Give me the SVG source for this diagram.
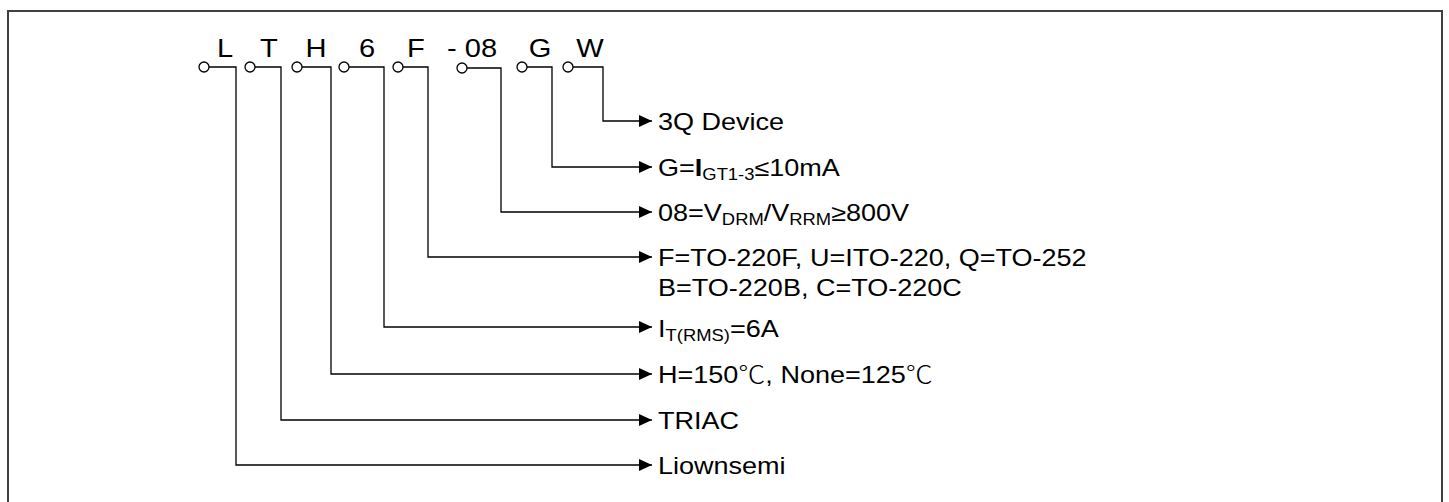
<svg xmlns="http://www.w3.org/2000/svg" width="1449" height="502" viewBox="0 0 1449 502">
<style>
.frame{fill:none;stroke:#404040;stroke-width:2}
.pin{fill:#fff;stroke:#000;stroke-width:1.3}
.code{font-family:"Liberation Sans",Arial,sans-serif;font-size:26px;fill:#000}
.lbl{font-family:"Liberation Sans",Arial,sans-serif;font-size:23.5px;fill:#000}
.sub{font-size:16px}
.deg{font-family:"Noto Sans CJK SC","DejaVu Sans",sans-serif;font-weight:300}
.wire{fill:none;stroke:#000;stroke-width:1.3}
</style>
<defs>
<marker id="arr" markerUnits="userSpaceOnUse" markerWidth="14" markerHeight="12" refX="13" refY="6" orient="auto">
<path d="M0,0 L13,6 L0,12 z" fill="#000"/>
</marker>
</defs>
<rect width="1449" height="502" fill="#fff"/>
<path class="frame" d="M8,503 V11 H1442 V503"/>
<g id="pin-L"><circle class="pin" cx="204" cy="67" r="5"/><text class="code" text-anchor="middle" transform="translate(225,57) scale(1.12,1)">L</text></g>
<g id="pin-T"><circle class="pin" cx="250" cy="67" r="5"/><text class="code" text-anchor="middle" transform="translate(269,57) scale(1.12,1)">T</text></g>
<g id="pin-H"><circle class="pin" cx="297" cy="67" r="5"/><text class="code" text-anchor="middle" transform="translate(316,57) scale(1.12,1)">H</text></g>
<g id="pin-6"><circle class="pin" cx="344" cy="67" r="5"/><text class="code" text-anchor="middle" transform="translate(367,57) scale(1.12,1)">6</text></g>
<g id="pin-F"><circle class="pin" cx="398" cy="67" r="5"/><text class="code" text-anchor="middle" transform="translate(416,57) scale(1.12,1)">F</text></g>
<g id="pin-08"><circle class="pin" cx="462" cy="68" r="5"/><text class="code" transform="translate(447,57) scale(1.12,1)">- 08</text></g>
<g id="pin-G"><circle class="pin" cx="522" cy="67" r="5"/><text class="code" text-anchor="middle" transform="translate(540,57) scale(1.12,1)">G</text></g>
<g id="pin-W"><circle class="pin" cx="568" cy="67" r="5"/><text class="code" text-anchor="middle" transform="translate(590,57) scale(1.12,1)">W</text></g>
<g id="connectors">
<path class="wire" marker-end="url(#arr)" d="M209,67 H236 V465 H652"/>
<path class="wire" marker-end="url(#arr)" d="M255,67 H281 V420 H652"/>
<path class="wire" marker-end="url(#arr)" d="M302,67 H331 V374 H652"/>
<path class="wire" marker-end="url(#arr)" d="M349,67 H384 V327 H652"/>
<path class="wire" marker-end="url(#arr)" d="M403,67 H428 V257 H652"/>
<path class="wire" marker-end="url(#arr)" d="M467,68 H501 V212 H652"/>
<path class="wire" marker-end="url(#arr)" d="M527,67 H552 V167 H652"/>
<path class="wire" marker-end="url(#arr)" d="M573,67 H603 V121 H652"/>
</g>
<g id="label-W"><text class="lbl" transform="translate(658,130) scale(1.15,1)">3Q Device</text></g>
<g id="label-G"><text class="lbl" transform="translate(658,176) scale(1.15,1)">G=<tspan font-weight="bold">I</tspan><tspan class="sub" dy="4">GT1-3</tspan><tspan dy="-4">≤10mA</tspan></text></g>
<g id="label-08"><text class="lbl" transform="translate(658,221) scale(1.15,1)">08=V<tspan class="sub" dy="4">DRM</tspan><tspan dy="-4">/V</tspan><tspan class="sub" dy="4">RRM</tspan><tspan dy="-4">≥800V</tspan></text></g>
<g id="label-F"><text class="lbl" transform="translate(658,266) scale(1.15,1)">F=TO-220F, U=ITO-220, Q=TO-252</text><text class="lbl" transform="translate(658,296) scale(1.15,1)">B=TO-220B, C=TO-220C</text></g>
<g id="label-6"><text class="lbl" transform="translate(658,337) scale(1.15,1)">I<tspan class="sub" dy="4">T(RMS)</tspan><tspan dy="-4">=6A</tspan></text></g>
<g id="label-H"><text class="lbl" transform="translate(658,383) scale(1.15,1)">H=150<tspan class="deg">℃</tspan>, None=125<tspan class="deg">℃</tspan></text></g>
<g id="label-T"><text class="lbl" transform="translate(658,429) scale(1.15,1)">TRIAC</text></g>
<g id="label-L"><text class="lbl" transform="translate(658,474) scale(1.15,1)">Liownsemi</text></g>
</svg>
